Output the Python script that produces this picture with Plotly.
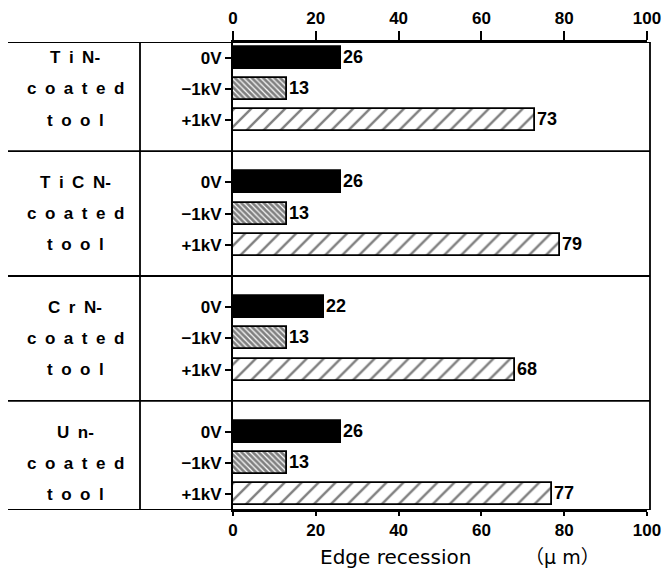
import plotly.graph_objects as go

groups = ["TiN-", "TiCN-", "CrN-", "Un-"]
voltages = ["0V", "\u22121kV", "+1kV"]
v_0V = [26, 26, 22, 26]
v_m1kV = [13, 13, 13, 13]
v_p1kV = [73, 79, 68, 77]
x_ticks = [0, 20, 40, 60, 80, 100]

FONT = "Arial, Liberation Sans, Helvetica, sans-serif"
PW = 414.0   # plot width in px
PH = 468.0   # plot height in px

def pos(k, j):
    return 4 * k + j

series = [v_0V, v_m1kV, v_p1kV]
patterns = [
    dict(shape=""),
    dict(shape="\\", size=4, solidity=0.7, fgcolor="black", bgcolor="white", fillmode="overlay"),
    dict(shape="/", size=12, solidity=0.2, fgcolor="black", bgcolor="white", fillmode="overlay"),
]
colors = ["black", "white", "white"]

fig = go.Figure()
for j, vals in enumerate(series):
    fig.add_trace(go.Bar(
        orientation="h",
        x=vals,
        y=[pos(k, j) for k in range(len(groups))],
        width=0.7,
        marker=dict(color=colors[j], line=dict(color="black", width=1.8), pattern=patterns[j]),
        text=[str(v) for v in vals],
        textposition="outside",
        textfont=dict(family=FONT, size=18, color="black", weight="bold"),
        cliponaxis=False,
        showlegend=False,
    ))

# invisible trace for top axis
fig.add_trace(go.Scatter(x=[0, 100], y=[0, 0], xaxis="x2", mode="markers",
                         marker=dict(opacity=0), showlegend=False, hoverinfo="skip"))

tickvals = [pos(k, j) for k in range(len(groups)) for j in range(3)]
ticktext = [voltages[j] for k in range(len(groups)) for j in range(3)]

axis_common = dict(range=[0, 100], tickvals=x_ticks, ticks="outside",
                   tickwidth=1.8, tickcolor="black", showline=True, linecolor="black",
                   linewidth=1.8, showgrid=False, zeroline=False,
                   tickfont=dict(family=FONT, size=17, color="black", weight="bold"))

fig.update_layout(
    width=670, height=573,
    margin=dict(l=233, r=23, t=42, b=63, autoexpand=False),
    plot_bgcolor="white", paper_bgcolor="white",
    bargap=0,
    xaxis=dict(**axis_common, ticklen=4),
    xaxis2=dict(**axis_common, ticklen=9, overlaying="x", side="top"),
    yaxis=dict(range=[14.5, -0.5], tickvals=tickvals, ticktext=ticktext,
               ticks="outside", ticklen=6, tickwidth=1.8, tickcolor="black",
               showline=True, linecolor="black", linewidth=2, showgrid=False,
               zeroline=False,
               tickfont=dict(family=FONT, size=17, color="black", weight="bold")),
)

# axis title as two pieces
ty = (510 - 557) / PH
fig.add_annotation(xref="paper", yref="paper", x=(395 - 233) / PW, y=ty, text="Edge recession",
                   showarrow=False, xanchor="center", yanchor="middle",
                   font=dict(family="DejaVu Sans", size=20, color="black"))
fig.add_annotation(xref="paper", yref="paper", x=(562 - 233) / PW, y=ty, text="\uff08\u03bc m\uff09",
                   showarrow=False, xanchor="center", yanchor="middle",
                   font=dict(family="DejaVu Sans, Noto Sans CJK JP", size=19, color="black"))

# table lines
xl = (8 - 233) / PW
xm = (140 - 233) / PW
xr = (650 - 233) / PW
line = dict(color="black", width=1.8)
for yv in [-0.5, 3, 7, 11, 14.5]:
    fig.add_shape(type="line", xref="paper", yref="y", x0=xl, x1=xr, y0=yv, y1=yv, line=line)
fig.add_shape(type="line", xref="paper", yref="y", x0=xm, x1=xm, y0=-0.5, y1=14.5, line=line)
fig.add_shape(type="line", xref="paper", yref="y", x0=xr, x1=xr, y0=-0.5, y1=14.5, line=line)

sp = "\u2002"
xc = (75 - 233) / PW
for k, g in enumerate(groups):
    lines = [sp.join(list(g[:-1])) + g[-1], sp.join(list("coated")), sp.join(list("tool"))]
    for j, t in enumerate(lines):
        fig.add_annotation(xref="paper", yref="y", x=xc, y=pos(k, j), text=t,
                           showarrow=False, xanchor="center", yanchor="middle",
                           font=dict(family=FONT, size=17, color="black", weight="bold"))

fig.write_html("out.html", config={"displayModeBar": False},
               post_script="document.body.style.margin='0';document.body.style.padding='0';")
